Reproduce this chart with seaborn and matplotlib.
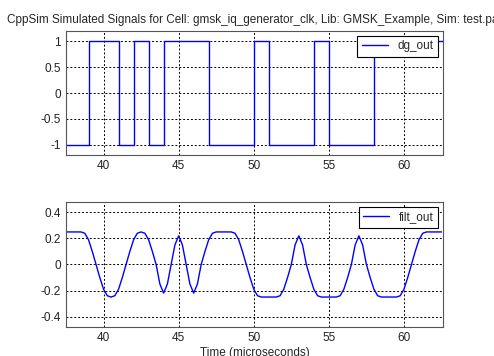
import numpy as np
import pandas as pd
import seaborn as sns
import matplotlib.pyplot as plt

# dg_out: step signal (level holds from each time until the next)
dg_t = [37.5, 39, 41, 42, 43, 44, 47, 50, 51, 54, 55, 58, 62.6]
dg_v = [-1, 1, -1, 1, -1, 1, -1, 1, -1, 1, -1, 1, 1]

# filt_out: every 0.25 microseconds, 37.5 .. 62.5
filt_t = [37.5 + 0.25 * i for i in range(101)]
filt_v = [
    0.25, 0.25, 0.25, 0.25, 0.25,           # 37.5 - 38.5
    0.24, 0.19, 0.10, 0.00, -0.10, -0.19, -0.24,  # 38.75 - 40.25
    -0.25, -0.24, -0.19, -0.10, 0.00, 0.10, 0.19, 0.24,  # 40.5 - 42.25
    0.25, 0.24, 0.19, 0.10, 0.00, -0.15, -0.22, -0.15,  # 42.5 - 44.25
    0.00, 0.15, 0.22, 0.15, 0.00, -0.15, -0.22, -0.15,  # 44.5 - 46.25
    0.00, 0.10, 0.19, 0.24, 0.25, 0.25, 0.25, 0.25, 0.25,  # 46.5 - 48.5
    0.24, 0.19, 0.10, 0.00, -0.10, -0.19, -0.24,  # 48.75 - 50.25
    -0.25, -0.25, -0.25, -0.25, -0.25,       # 50.5 - 51.5
    -0.24, -0.19, -0.10, 0.00, 0.15, 0.22, 0.15, 0.00,  # 51.75 - 53.5
    -0.10, -0.19, -0.24, -0.25, -0.25, -0.25, -0.25, -0.25,  # 53.75 - 55.5
    -0.24, -0.19, -0.10, 0.00, 0.15, 0.22, 0.15, 0.00,  # 55.75 - 57.5
    -0.10, -0.19, -0.24, -0.25, -0.25, -0.25, -0.25, -0.25,  # 57.75 - 59.5
    -0.24, -0.19, -0.10, 0.00, 0.10, 0.19, 0.24,  # 59.75 - 61.25
    0.25, 0.25, 0.25, 0.25, 0.25,            # 61.5 - 62.5
]

dg = pd.DataFrame({"t": dg_t, "v": dg_v})
filt = pd.DataFrame({"t": filt_t, "v": filt_v})

sns.set_style("white")
plt.rcParams["font.family"] = ["Liberation Sans", "DejaVu Sans"]
plt.rcParams["font.size"] = 8.5

fig = plt.figure(figsize=(4.94, 3.56), dpi=100)
ax1 = fig.add_axes([0.1336, 0.5646, 0.7632, 0.3483])
ax2 = fig.add_axes([0.1336, 0.0815, 0.7632, 0.3511])

sns.lineplot(data=dg, x="t", y="v", ax=ax1, color="#0000ff", lw=1.0,
             drawstyle="steps-post", estimator=None, label="dg_out")
sns.lineplot(data=filt, x="t", y="v", ax=ax2, color="#0000ff", lw=1.0,
             estimator=None, label="filt_out")

for ax in (ax1, ax2):
    ax.set_xlim(37.5, 62.6)
    ax.set_xticks([40, 45, 50, 55, 60])
    ax.grid(True, color="black", linestyle=(0, (2, 2)), linewidth=0.7)
    ax.tick_params(direction="in", length=3, colors="#222222", labelsize=8.5)
    for s in ax.spines.values():
        s.set_color("#555555")
        s.set_linewidth(0.8)
    ax.set_xlabel("")
    ax.set_ylabel("")
    leg = ax.legend(loc="upper right", fancybox=False, framealpha=1,
                    edgecolor="black", fontsize=8.5, handlelength=2.2,
                    borderaxespad=0.4)
    leg.get_frame().set_linewidth(0.8)

ax1.set_ylim(-1.2, 1.2)
ax1.set_yticks([-1, -0.5, 0, 0.5, 1])
ax1.set_yticklabels(["-1", "-0.5", "0", "0.5", "1"])
ax2.set_ylim(-0.48, 0.48)
ax2.set_yticks([-0.4, -0.2, 0, 0.2, 0.4])
ax2.set_yticklabels(["-0.4", "-0.2", "0", "0.2", "0.4"])

ax1.set_title("CppSim Simulated Signals for Cell: gmsk_iq_generator_clk, Lib: GMSK_Example, Sim: test.par",
              fontsize=8.5, pad=6)
ax2.set_xlabel("Time (microseconds)", fontsize=8.5, labelpad=2)

fig.savefig("out.png", dpi=100)
